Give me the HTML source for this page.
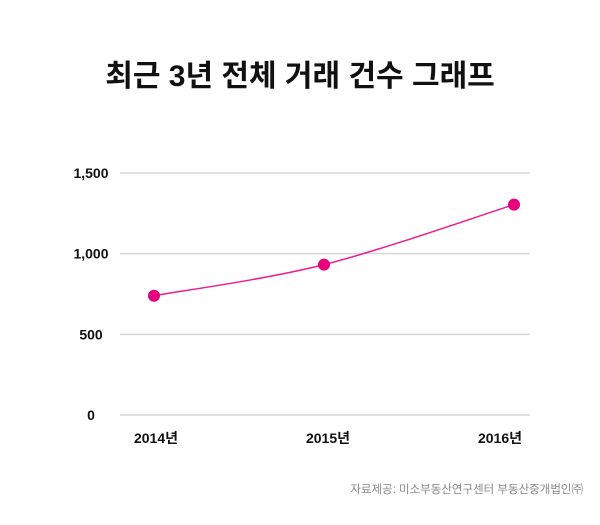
<!DOCTYPE html>
<html><head><meta charset="utf-8"><style>
body{margin:0;background:#fff;}
svg text{font-family:"Liberation Sans","Noto Sans CJK KR",sans-serif;}
</style></head><body>
<svg width="600" height="520" xmlns="http://www.w3.org/2000/svg">
<text x="300" y="86" text-anchor="middle" font-size="30" font-weight="bold" fill="#111">최근 3년 전체 거래 건수 그래프</text>
<g id="grid"></g>
<g id="yt"></g>
<g id="xt"></g>
<g id="series"></g>
<text x="583" y="493" text-anchor="end" font-size="11.5" fill="#888">자료제공: 미소부동산연구센터 부동산중개법인㈜</text>
</svg>
<script>
const categories=["2014년","2015년","2016년"];
const values=[739,932,1304];
const yTicks=[0,500,1000,1500];
const yTickLabels=["0","500","1,000","1,500"];
const NS="http://www.w3.org/2000/svg";
const y=v=>415-v*(242/1500);
const x=i=>154+i*170+10*i*(i-1);
function mk(t,a,p){const e=document.createElementNS(NS,t);for(const k in a)e.setAttribute(k,a[k]);p.appendChild(e);return e;}
const grid=document.getElementById('grid'),yt=document.getElementById('yt'),xt=document.getElementById('xt'),s=document.getElementById('series');
yTicks.forEach((v,i)=>{
 const l=mk('line',{x1:120,x2:530,y1:y(v),y2:y(v),stroke:'#d6d6d6','stroke-width':1.5},grid);
 
 
 const t=mk('text',{x:91,y:y(v)+5,'text-anchor':'middle','font-size':14,'font-weight':'bold',fill:'#111'},yt);
 t.textContent=yTickLabels[i];
 
 
});
categories.forEach((c,i)=>{
 const t=mk('text',{x:x(i)+2+(i==1?2:0)-(i==2?16:0),y:443,'text-anchor':'middle','font-size':14,'font-weight':'bold',fill:'#111'},xt);
 t.textContent=c;
 
 
});
const pts=values.map((v,i)=>[x(i),y(v)]);
let d='M'+pts[0][0]+','+pts[0][1];
for(let i=0;i<pts.length-1;i++){
 const p0=pts[Math.max(0,i-1)],p1=pts[i],p2=pts[i+1],p3=pts[Math.min(pts.length-1,i+2)];
 const c1=[p1[0]+(p2[0]-p0[0])/6,p1[1]+(p2[1]-p0[1])/6],c2=[p2[0]-(p3[0]-p1[0])/6,p2[1]-(p3[1]-p1[1])/6];
 d+=' C'+c1+' '+c2+' '+p2;
}
const path=mk('path',{d:d,fill:'none',stroke:'#ee1c8e','stroke-width':1.5},s);


pts.forEach((p,i)=>{
 const c=mk('circle',{cx:p[0],cy:p[1],r:6,fill:'#e6007e'},s);
 
 
});
</script>
</body></html>
